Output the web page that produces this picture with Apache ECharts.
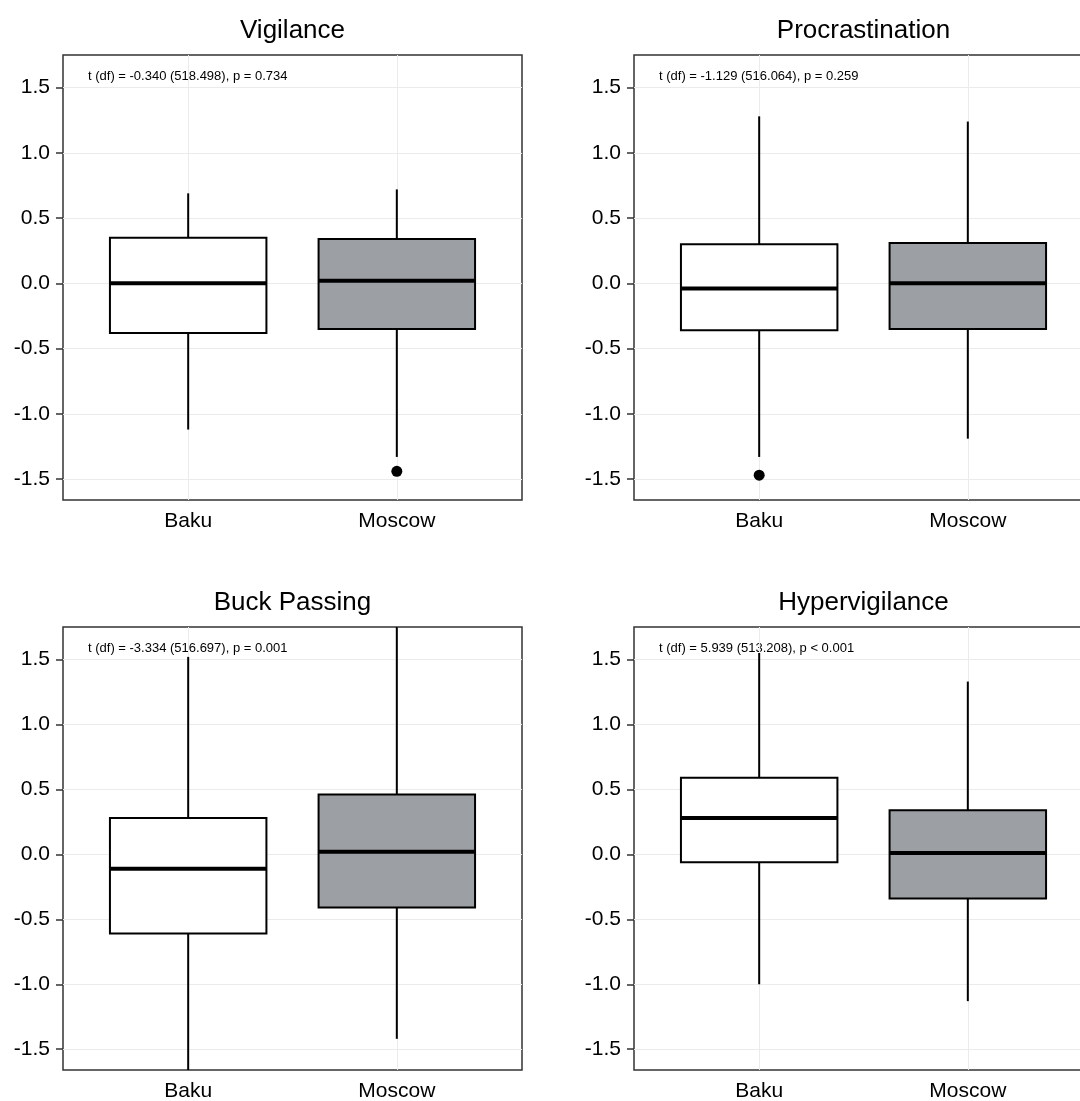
<!DOCTYPE html>
<html lang="en">
<head>
<meta charset="UTF-8">
<title>Baku vs Moscow boxplots</title>
<script src="https://cdn.jsdelivr.net/npm/echarts@6/dist/echarts.min.js"></script>
<style>body{margin:0;background:#fff}</style>
</head>
<body>
<div id="main" style="width:1080px;height:1101px;"></div>
<script>
var cities = ['Baku', 'Moscow'];
var panelNames = ['Vigilance', 'Procrastination', 'Buck Passing', 'Hypervigilance'];
var testLabels = [
    't (df) = -0.340 (518.498), p = 0.734',
    't (df) = -1.129 (516.064), p = 0.259',
    't (df) = -3.334 (516.697), p = 0.001',
    't (df) = 5.939 (513.208), p < 0.001'
];
// one row per panel: [Baku, Moscow]
var whiskerLow = [[-1.12, -1.33], [-1.33, -1.19], [-1.66, -1.42], [-1.00, -1.13]];
var q1 = [[-0.38, -0.35], [-0.36, -0.35], [-0.61, -0.41], [-0.06, -0.34]];
var median = [[0.00, 0.02], [-0.04, 0.00], [-0.11, 0.02], [0.28, 0.01]];
var q3 = [[0.35, 0.34], [0.30, 0.31], [0.28, 0.46], [0.59, 0.34]];
var whiskerHigh = [[0.69, 0.72], [1.28, 1.24], [1.52, 1.75], [1.55, 1.33]];
// outliers
var outlierPanel = [0, 1];
var outlierCity = [1, 0];
var outlierValue = [-1.44, -1.47];
var yTicks = [-1.5, -1.0, -0.5, 0, 0.5, 1.0, 1.5];

var FONT = 'Liberation Sans, Arial, Helvetica, sans-serif';
var boxFill = ['#ffffff', '#9c9fa3'];
var panelLeft = [63, 634, 63, 634];
var panelTop = [55, 55, 627, 627];
var panelW = 459;
var panelH = [445, 445, 443, 443];

var chart = echarts.init(document.getElementById('main'));

var grids = [], xAxes = [], yAxes = [], series = [], graphics = [];

for (var p = 0; p < 4; p++) {
    grids.push({
        left: panelLeft[p], top: panelTop[p], width: panelW, height: panelH[p],
        outerBoundsMode: 'none', containLabel: false,
        show: true, borderColor: '#333', borderWidth: 1.5, backgroundColor: '#fff'
    });
    xAxes.push({
        type: 'value', gridIndex: p, min: 0.4, max: 2.6,
        axisLine: {show: false},
        axisTick: {show: true, customValues: [1, 2], length: 7, lineStyle: {color: '#333', width: 1.5}},
        axisLabel: {customValues: [1, 2], fontFamily: FONT, fontSize: 21, color: '#000', margin: 11,
            formatter: function (v) { return cities[Math.round(v) - 1]; }},
        splitLine: {show: true, lineStyle: {color: '#ebebeb', width: 1}}
    });
    yAxes.push({
        type: 'value', gridIndex: p, min: -1.66, max: 1.75,
        axisLine: {show: false},
        axisTick: {show: true, customValues: yTicks, length: 7, lineStyle: {color: '#333', width: 1.5}},
        axisLabel: {customValues: yTicks, fontFamily: FONT, fontSize: 21, color: '#000', margin: 13,
            formatter: function (v) { return v.toFixed(1); }},
        splitLine: {show: true, lineStyle: {color: '#ebebeb', width: 1}}
    });

    var boxData = [];
    for (var c = 0; c < cities.length; c++) {
        boxData.push([c + 1, whiskerLow[p][c], q1[p][c], median[p][c], q3[p][c], whiskerHigh[p][c]]);
    }
    series.push({
        type: 'custom', xAxisIndex: p, yAxisIndex: p, clip: true,
        data: boxData,
        renderItem: function (params, api) {
            var x = api.value(0);
            var lo = api.coord([x, api.value(1)]);
            var b1 = api.coord([x, api.value(2)]);
            var b3 = api.coord([x, api.value(4)]);
            var hi = api.coord([x, api.value(5)]);
            var mL = api.coord([x - 0.375, api.value(3)]);
            var mR = api.coord([x + 0.375, api.value(3)]);
            var line = {stroke: '#000', lineWidth: 2};
            return {
                type: 'group',
                children: [
                    {type: 'line', shape: {x1: lo[0], y1: lo[1], x2: b1[0], y2: b1[1]}, style: line},
                    {type: 'line', shape: {x1: b3[0], y1: b3[1], x2: hi[0], y2: hi[1]}, style: line},
                    {type: 'rect', shape: {x: mL[0], y: b3[1], width: mR[0] - mL[0], height: b1[1] - b3[1]},
                        style: {fill: boxFill[params.dataIndex], stroke: '#000', lineWidth: 2}},
                    {type: 'line', shape: {x1: mL[0], y1: mL[1], x2: mR[0], y2: mR[1]},
                        style: {stroke: '#000', lineWidth: 4}}
                ]
            };
        }
    });

    var pts = [];
    for (var k = 0; k < outlierPanel.length; k++) {
        if (outlierPanel[k] === p) pts.push([outlierCity[k] + 1, outlierValue[k]]);
    }
    series.push({
        type: 'scatter', xAxisIndex: p, yAxisIndex: p,
        symbol: 'circle', symbolSize: 11, itemStyle: {color: '#000', opacity: 1},
        data: pts
    });

    graphics.push({
        type: 'text', x: panelLeft[p] + panelW / 2, y: panelTop[p] - 24,
        style: {text: panelNames[p], font: '26px ' + FONT, fill: '#000', textAlign: 'center', textVerticalAlign: 'middle'}
    });
    graphics.push({
        type: 'text', x: panelLeft[p] + 25, y: panelTop[p] + 21,
        style: {text: testLabels[p], font: '13px ' + FONT, fill: '#000', textAlign: 'left', textVerticalAlign: 'middle'}
    });
}

chart.setOption({
    animation: false,
    backgroundColor: '#fff',
    grid: grids,
    xAxis: xAxes,
    yAxis: yAxes,
    series: series,
    graphic: graphics
});
</script>
</body>
</html>
